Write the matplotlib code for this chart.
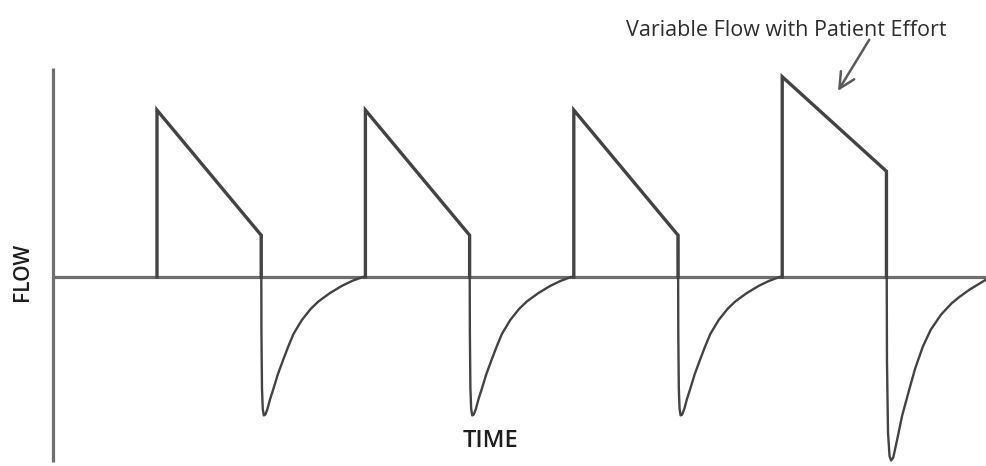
import matplotlib
matplotlib.use('Agg')
import matplotlib.pyplot as plt
import numpy as np

# Breath timing (s) and flow (L/min)
breath_start = [2.0, 6.0, 10.0, 14.0]
insp_time = [2.0, 2.0, 2.0, 2.0]
insp_peak = [60, 60, 60, 72]
insp_end = [15, 15, 15, 38]

# Expiratory curve, time after end of inspiration
exp_dt = [0.0, 0.005, 0.015, 0.03, 0.05, 0.08, 0.12, 0.17, 0.23, 0.32, 0.42, 0.52, 0.62, 0.78, 0.95, 1.1, 1.32, 1.55, 1.75, 1.95, 2.0]
exp_flow = [15, -20, -40, -47.5, -49.8, -49.5, -47.5, -44, -40.5, -35, -29.9, -25, -20.5, -15.5, -11.5, -8.8, -5.8, -3.2, -1.4, 0, 0]
exp_dt_effort = [0.0, 0.01, 0.03, 0.06, 0.09, 0.13, 0.2, 0.3, 0.42, 0.55, 0.7, 0.85, 1.05, 1.25, 1.4, 1.6, 1.9]
exp_flow_effort = [38, -30, -56, -64.5, -66, -65, -59, -50, -41.7, -33, -25, -19, -13.5, -9.5, -7.2, -4.5, -1.1]

line_col = '#434343'
axis_col = '#6e6e6e'

fig = plt.figure(figsize=(9.87, 4.66), dpi=100)
ax = fig.add_axes([0, 0, 1, 1])
ax.set_xlim(-1.013, 17.93)
ax.set_ylim(-68.0, 99.6)
ax.axis('off')

# axes lines
ax.plot([0, 0], [75.2, -66.5], color=axis_col, lw=2.3, solid_capstyle='butt')
ax.plot([0, 17.93], [0, 0], color=axis_col, lw=2.3, solid_capstyle='butt')

for i, t0 in enumerate(breath_start):
    te = t0 + insp_time[i]
    ax.plot([t0, t0, te, te], [0, insp_peak[i], insp_end[i], 0],
            color=line_col, lw=2.4, solid_joinstyle='miter')
    if i == 3:
        dts, fl = exp_dt_effort, exp_flow_effort
    else:
        dts, fl = exp_dt, exp_flow
    ax.plot([te + d for d in dts], fl, color=line_col, lw=1.7)

ax.text(14.07, 88.5, 'Variable Flow with Patient Effort', ha='center', va='center',
        fontsize=15.5, family='Open Sans', fontweight='medium', color='#2e2e2e')
ax.annotate('', xy=(15.07, 66.9), xytext=(15.67, 85.3),
            arrowprops=dict(arrowstyle='->', color='#5a5a5a', lw=1.8,
                            mutation_scale=28, shrinkA=0, shrinkB=0))

ax.text(8.41, -59, 'TIME', ha='center', va='center', fontsize=17,
        family='Open Sans', fontweight='semibold', color='#1e1e1e')
ax.text(-0.59, 1.8, 'FLOW', ha='center', va='center', fontsize=15,
        family='Open Sans', fontweight='semibold', color='#1e1e1e', rotation=90)

fig.savefig('out.png', dpi=100)
